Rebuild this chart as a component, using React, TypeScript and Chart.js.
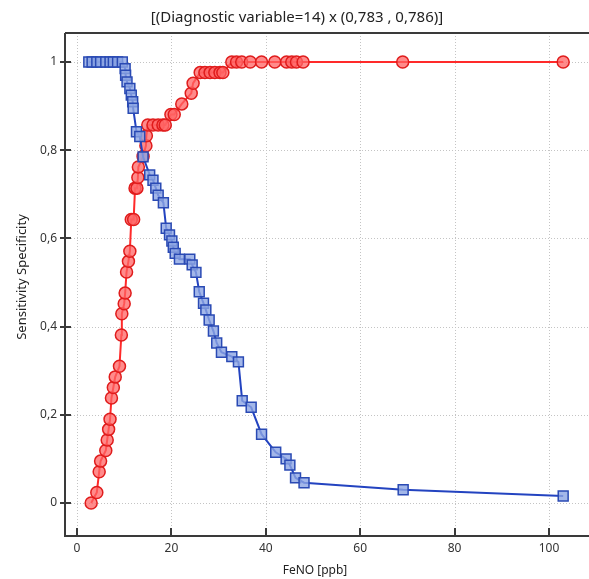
import React, { useEffect, useRef } from "react";
import { Chart, registerables } from "chart.js";
Chart.register(...registerables);

const TITLE = "[(Diagnostic variable=14) x (0,783 , 0,786)]";
const X_TITLE = "FeNO [ppb]";
const Y_TITLE = "Sensitivity Specificity";
const xTicks = [0, 20, 40, 60, 80, 100];
const yTicks = [0, 0.2, 0.4, 0.6, 0.8, 1];

// Sensitivity (red circles)
const sensX = [3.0, 4.2, 4.7, 5.0, 6.1, 6.4, 6.7, 7.0, 7.3, 7.7, 8.1, 9.0, 9.4, 9.5, 10.0, 10.2, 10.5, 10.9, 11.2, 11.5, 12.0, 12.3, 12.7, 12.9, 13.0, 14.0, 14.6, 14.7, 15.0, 16.1, 17.2, 18.2, 18.7, 19.9, 20.6, 22.2, 24.2, 24.6, 26.1, 27.1, 28.2, 29.2, 30.3, 30.9, 32.8, 33.8, 34.9, 36.7, 39.1, 41.9, 44.4, 45.5, 46.5, 47.9, 69.0, 103.0];
const sensY = [0, 0.024, 0.071, 0.095, 0.119, 0.143, 0.167, 0.19, 0.238, 0.262, 0.286, 0.31, 0.381, 0.429, 0.452, 0.476, 0.524, 0.548, 0.571, 0.643, 0.643, 0.714, 0.714, 0.738, 0.762, 0.786, 0.81, 0.833, 0.857, 0.857, 0.857, 0.857, 0.857, 0.881, 0.881, 0.905, 0.929, 0.952, 0.976, 0.976, 0.976, 0.976, 0.976, 0.976, 1, 1, 1, 1, 1, 1, 1, 1, 1, 1, 1, 1];

// Specificity (blue squares)
const specX = [2.5, 3.2, 4.2, 5.0, 6.1, 7.0, 7.7, 8.6, 9.6, 10.2, 10.3, 10.6, 11.2, 11.5, 11.8, 11.9, 12.6, 13.3, 14.0, 15.4, 16.1, 16.7, 17.2, 18.3, 18.9, 19.6, 20.1, 20.4, 20.8, 21.7, 23.9, 24.4, 25.2, 25.9, 26.8, 27.3, 28.0, 28.9, 29.6, 30.6, 32.8, 34.2, 35.0, 36.9, 39.1, 42.1, 44.3, 45.1, 46.3, 48.1, 69.1, 103.0];
const specY = [1, 1, 1, 1, 1, 1, 1, 1, 1, 0.985, 0.97, 0.955, 0.94, 0.925, 0.91, 0.895, 0.842, 0.831, 0.785, 0.744, 0.732, 0.714, 0.698, 0.681, 0.623, 0.608, 0.594, 0.58, 0.566, 0.553, 0.553, 0.54, 0.523, 0.479, 0.453, 0.438, 0.415, 0.39, 0.363, 0.342, 0.332, 0.32, 0.232, 0.217, 0.156, 0.115, 0.1, 0.086, 0.057, 0.046, 0.03, 0.016];

const FONT = "'Noto Sans', 'Liberation Sans', sans-serif";

const decor = {
  id: "decor",
  beforeDatasetsDraw(chart: any) {
    const { ctx, chartArea: a, scales } = chart;
    const x = scales.x;
    const y = scales.y;
    ctx.save();
    ctx.strokeStyle = "#c4c4c4";
    ctx.lineWidth = 1;
    ctx.setLineDash([1, 2]);
    xTicks.forEach((v) => {
      const px = Math.round(x.getPixelForValue(v)) + 0.5;
      ctx.beginPath();
      ctx.moveTo(px, a.top);
      ctx.lineTo(px, a.bottom);
      ctx.stroke();
    });
    yTicks.forEach((v) => {
      const py = Math.round(y.getPixelForValue(v)) + 0.5;
      ctx.beginPath();
      ctx.moveTo(a.left, py);
      ctx.lineTo(a.right, py);
      ctx.stroke();
    });
    ctx.setLineDash([]);
    ctx.strokeStyle = "#3a3a3a";
    ctx.lineWidth = 2;
    ctx.beginPath();
    ctx.moveTo(a.left, a.top);
    ctx.lineTo(a.right, a.top);
    ctx.moveTo(a.left, a.top);
    ctx.lineTo(a.left, a.bottom);
    ctx.lineTo(a.right, a.bottom);
    ctx.stroke();
    xTicks.forEach((v) => {
      const px = Math.round(x.getPixelForValue(v));
      ctx.beginPath();
      ctx.moveTo(px, a.bottom - 8);
      ctx.lineTo(px, a.bottom + 1);
      ctx.stroke();
    });
    yTicks.forEach((v) => {
      const py = Math.round(y.getPixelForValue(v));
      ctx.beginPath();
      ctx.moveTo(a.left - 5, py);
      ctx.lineTo(a.left + 6, py);
      ctx.stroke();
    });
    ctx.restore();
  },
  afterDraw(chart: any) {
    const { ctx } = chart;
    ctx.save();
    ctx.fillStyle = "#222";
    ctx.textAlign = "center";
    ctx.textBaseline = "middle";
    ctx.font = `15px ${FONT}`;
    ctx.fillText(TITLE, 297, 18);
    ctx.font = `12px ${FONT}`;
    ctx.fillText(X_TITLE, 315, 571);
    ctx.font = `13px ${FONT}`;
    ctx.translate(22, 277);
    ctx.rotate(-Math.PI / 2);
    ctx.fillText(Y_TITLE, 0, 0);
    ctx.restore();
  },
};

export default function App() {
  const ref = useRef<HTMLCanvasElement>(null);
  useEffect(() => {
    if (!ref.current) return;
    const chart = new Chart(ref.current, {
      type: "line",
      data: {
        datasets: [
          {
            label: "Specificity",
            data: specX.map((v, i) => ({ x: v, y: specY[i] })),
            borderColor: "#2343c0",
            borderWidth: 2,
            backgroundColor: "rgba(140,165,228,0.8)",
            pointStyle: "rect",
            pointRadius: 7,
            pointBorderColor: "#2a4ab4",
            pointBorderWidth: 1.5,
            pointBackgroundColor: "rgba(140,165,228,0.8)",
            tension: 0,
          },
          {
            label: "Sensitivity",
            data: sensX.map((v, i) => ({ x: v, y: sensY[i] })),
            borderColor: "#ff2a2a",
            borderWidth: 2,
            backgroundColor: "rgba(255,100,100,0.75)",
            pointStyle: "circle",
            pointRadius: 6,
            pointBorderColor: "#e01c1c",
            pointBorderWidth: 1.5,
            pointBackgroundColor: "rgba(255,100,100,0.75)",
            tension: 0,
          },
        ],
      },
      options: {
        responsive: false,
        animation: false,
        devicePixelRatio: 1,
        layout: { autoPadding: false, padding: { top: 33, left: 0, right: 0, bottom: 0 } },
        plugins: { legend: { display: false }, tooltip: { enabled: false }, title: { display: false } },
        scales: {
          x: {
            type: "linear",
            min: -2.54,
            max: 108.47,
            grid: { display: false, drawTicks: false },
            border: { display: false },
            afterBuildTicks: (s: any) => {
              s.ticks = xTicks.map((v) => ({ value: v }));
            },
            afterFit: (s: any) => {
              s.height = 43;
              s.paddingLeft = 0;
              s.paddingRight = 0;
            },
            ticks: {
              padding: 5,
              maxRotation: 0,
              color: "#333",
              font: { family: FONT, size: 12 },
              callback: (v: any) => String(v),
            },
          },
          y: {
            type: "linear",
            min: -0.0748,
            max: 1.0658,
            grid: { display: false, drawTicks: false },
            border: { display: false },
            afterBuildTicks: (s: any) => {
              s.ticks = yTicks.map((v) => ({ value: v }));
            },
            afterFit: (s: any) => {
              s.width = 65;
              s.paddingTop = 0;
              s.paddingBottom = 0;
            },
            ticks: {
              padding: 8,
              color: "#333",
              font: { family: FONT, size: 12 },
              callback: (v: any) => String(Math.round(v * 10) / 10).replace(".", ","),
            },
          },
        },
      },
      plugins: [decor],
    });
    return () => chart.destroy();
  }, []);
  return (
    <div style={{ position: "absolute", left: 0, top: 0, width: 589, height: 579 }}>
      <canvas ref={ref} width={589} height={579} style={{ display: "block" }} />
    </div>
  );
}
